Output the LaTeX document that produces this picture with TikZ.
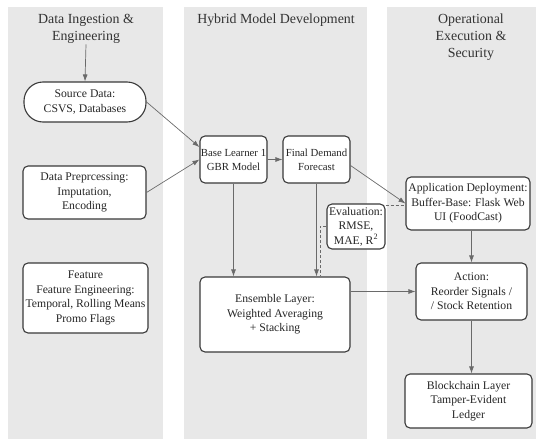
\documentclass[tikz,border=0pt]{standalone}
\usepackage{fontspec}
\setmainfont{Liberation Serif}
\usetikzlibrary{arrows.meta,calc}
\definecolor{panelgray}{HTML}{E8E8E8}
\definecolor{boxline}{HTML}{3A3A3A}
\definecolor{linkgray}{HTML}{6A6A6A}
\begin{document}
\begin{tikzpicture}[x=1pt,y=-1pt,
  panel/.style={fill=panelgray,draw=none},
  title/.style={align=center,font=\fontsize{13.9}{17}\selectfont,text=black!80,inner sep=1pt},
  box/.style={draw=boxline,line width=1.1pt,fill=white,rounded corners=5pt,align=center,
    font=\fontsize{11.7}{14.5}\selectfont,inner sep=0pt,text=black!85},
  smallbox/.style={box,font=\fontsize{10.8}{14}\selectfont},
  link/.style={draw=linkgray,line width=0.7pt,-{Latex[length=7pt,width=5pt]}},
  dlink/.style={draw=linkgray,line width=0.7pt,dash pattern=on 3pt off 2pt}]
\useasboundingbox (0,0) rectangle (536,439);
% panels
\fill[panel] (8,7) rectangle (163,439);
\fill[panel] (184,7) rectangle (367,439);
\fill[panel] (387,7) rectangle (536,439);
% titles
\node[title] (h1) at (86,28.5) {Data Ingestion \&\\Engineering};
\node[title] (h2) at (276,20) {Hybrid Model Development};
\node[title] (h3) at (471,37) {Operational\\Execution \&\\Security};
% left column
\node[box,rounded corners=19pt,minimum width=122pt,minimum height=40pt] (src) at (85,102) {Source Data:\\CSVS, Databases};
\node[box,minimum width=123pt,minimum height=53pt] (prep) at (84.5,192.5) {Data Preprcessing:\\Imputation,\\Encoding};
\node[box,minimum width=125pt,minimum height=70pt] (feat) at (85.5,298) {Feature\\Feature Engineering:\\Temporal, Rolling Means\\Promo Flags};
% middle column
\node[smallbox,minimum width=67pt,minimum height=47pt] (base) at (233.5,159.5) {Base Learner 1\\GBR Model};
\node[smallbox,minimum width=67pt,minimum height=47pt] (final) at (316.5,159.5) {Final Demand\\Forecast};
\node[box,minimum width=58pt,minimum height=45pt] (eval) at (356,226.5) {Evaluation:\\RMSE,\\MAE, R\textsuperscript{2}};
\node[box,minimum width=150pt,minimum height=75pt] (ens) at (275,314.5) {Ensemble Layer:\\Weighted Averaging\\+ Stacking};
% right column
\node[box,minimum width=124pt,minimum height=53pt] (app) at (468,203.5) {Application Deployment:\\Buffer-Base: Flask Web\\UI (FoodCast)};
\node[box,minimum width=111pt,minimum height=57pt] (act) at (471.5,291.5) {Action:\\Reorder Signals /\\/ Stock Retention};
\node[box,minimum width=127pt,minimum height=54pt] (blk) at (468.5,401) {Blockchain Layer\\Tamper-Evident\\Ledger};
% connectors
\coordinate (dx) at (320,0);
\draw[link] (h1.south) -- (src.north);
\draw[link] (src.east) -- (base.160);
\draw[link] (prep.east) -- (base.west);
\draw[link] (base.east) -- (final.west);
\draw[link] (final.-10) -- (app.west);
\draw[link] (base.south) -- (base.south |- ens.north);
\draw[dlink] (eval.west) -| (dx |- ens.north);
\draw[link] (final.south) -- (final.south |- ens.north);
\draw[dlink] (eval.35) -- (eval.35 -| app.west);
\draw[link] (act.west -| ens.east) -- (act.west);
\draw[link] (act.north |- app.south) -- (act.north);
\draw[link] (act.south) -- (act.south |- blk.north);
\end{tikzpicture}
\end{document}
